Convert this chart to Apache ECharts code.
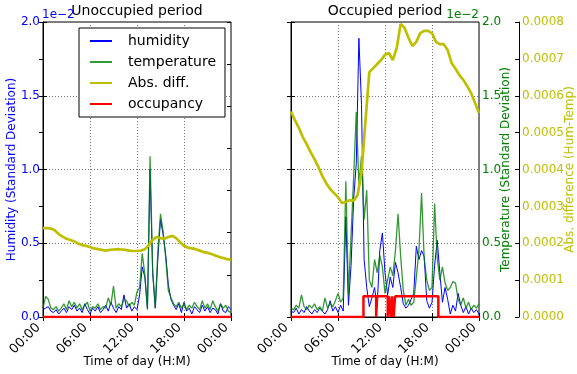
<!DOCTYPE html>
<html>
<head>
<meta charset="utf-8">
<script src="https://cdn.jsdelivr.net/npm/echarts@6/dist/echarts.min.js"></script>
<style>
html, body { margin: 0; padding: 0; background: #fff; }
#chart { width: 577px; height: 374px; }
</style>
</head>
<body>
<div id="chart"></div>
<script>
// x tick labels, one every 6 hours
const xTicks = ['00:00', '06:00', '12:00', '18:00', '00:00']

// std deviations sampled every 20 min (00:00 .. 24:00), in units of 1e-2
const unoccHumidity = [
  0.05, 0.06, 0.07, 0.04, 0.03, 0.05, 0.02, 0.04, 0.06, 0.03,
  0.07, 0.05, 0.08, 0.04, 0.06, 0.03, 0.09, 0.05, 0.02, 0.06,
  0.04, 0.07, 0.03, 0.05, 0.08, 0.04, 0.10, 0.06, 0.03, 0.07,
  0.05, 0.15, 0.06, 0.09, 0.04, 0.07, 0.05, 0.15, 0.34, 0.27,
  0.06, 1.00, 0.30, 0.06, 0.40, 0.66, 0.56, 0.42, 0.22, 0.12,
  0.08, 0.05, 0.09, 0.03, 0.10, 0.04, 0.06, 0.02, 0.07, 0.05,
  0.03, 0.08, 0.04, 0.07, 0.03, 0.06, 0.05, 0.02, 0.09, 0.04,
  0.03, 0.07, 0.05
]
const unoccTemperature = [
  0.06, 0.14, 0.12, 0.06, 0.05, 0.07, 0.04, 0.06, 0.09, 0.05,
  0.11, 0.07, 0.10, 0.06, 0.09, 0.05, 0.08, 0.10, 0.04, 0.07,
  0.06, 0.09, 0.05, 0.07, 0.06, 0.13, 0.08, 0.21, 0.06, 0.09,
  0.07, 0.12, 0.11, 0.07, 0.10, 0.08, 0.17, 0.20, 0.43, 0.29,
  0.05, 1.09, 0.32, 0.06, 0.45, 0.70, 0.58, 0.40, 0.18, 0.13,
  0.09, 0.07, 0.10, 0.06, 0.09, 0.05, 0.08, 0.06, 0.10, 0.07,
  0.05, 0.11, 0.06, 0.09, 0.05, 0.11, 0.07, 0.04, 0.09, 0.06,
  0.08, 0.04, 0.03
]
const occHumidity = [
  0.04, 0.03, 0.06, 0.02, 0.05, 0.03, 0.07, 0.04, 0.02, 0.05,
  0.03, 0.06, 0.04, 0.02, 0.05, 0.11, 0.04, 0.07, 0.03, 0.08,
  0.04, 0.68, 0.08, 0.35, 0.80, 1.04, 1.89, 1.44, 0.39, 0.20,
  0.07, 0.13, 0.20, 0.07, 0.45, 0.57, 0.30, 0.15, 0.27, 0.20,
  0.37, 0.30, 0.20, 0.09, 0.06, 0.08, 0.12, 0.16, 0.48, 0.39,
  0.45, 0.41, 0.11, 0.06, 0.10, 0.35, 0.52, 0.30, 0.10, 0.20,
  0.12, 0.02, 0.08, 0.04, 0.16, 0.08, 0.03, 0.07, 0.02, 0.06,
  0.03, 0.05, 0.02
]
const occTemperature = [
  0.06, 0.05, 0.08, 0.06, 0.15, 0.07, 0.05, 0.08, 0.06, 0.09,
  0.05, 0.07, 0.04, 0.13, 0.06, 0.09, 0.07, 0.11, 0.16, 0.10,
  0.13, 0.92, 0.15, 0.55, 0.95, 1.39, 0.90, 1.09, 0.66, 0.86,
  0.25, 0.20, 0.39, 0.30, 0.42, 0.34, 0.16, 0.25, 0.34, 0.28,
  0.45, 0.70, 0.41, 0.18, 0.08, 0.12, 0.08, 0.10, 0.27, 0.45,
  0.84, 0.40, 0.25, 0.18, 0.20, 0.77, 0.40, 0.25, 0.34, 0.23,
  0.18, 0.20, 0.24, 0.23, 0.12, 0.08, 0.13, 0.06, 0.10, 0.05,
  0.08, 0.06, 0.09
]

// abs. difference (hum - temp), every 30 min
const unoccAbsDiff = [
  0.000241, 0.000241, 0.000240, 0.000235, 0.000225, 0.000218, 0.000212, 0.000209, 0.000205, 0.000199,
  0.000195, 0.000193, 0.000190, 0.000186, 0.000184, 0.000182, 0.000180, 0.000182, 0.000183, 0.000184,
  0.000183, 0.000182, 0.000180, 0.000179, 0.000179, 0.000180, 0.000184, 0.000195, 0.000209, 0.000217,
  0.000214, 0.000212, 0.000217, 0.000220, 0.000214, 0.000203, 0.000193, 0.000188, 0.000186, 0.000184,
  0.000180, 0.000176, 0.000174, 0.000171, 0.000167, 0.000163, 0.000160, 0.000157, 0.000155
]
const occAbsDiff = [
  0.000557, 0.000534, 0.000513, 0.000488, 0.000469, 0.000447, 0.000428, 0.000407, 0.000382, 0.000363,
  0.000347, 0.000336, 0.000325, 0.000309, 0.000312, 0.000317, 0.000315, 0.000331, 0.000391, 0.000529,
  0.000664, 0.000675, 0.000686, 0.000697, 0.000711, 0.000716, 0.000697, 0.000730, 0.000795, 0.000784,
  0.000757, 0.000735, 0.000746, 0.000770, 0.000776, 0.000776, 0.000770, 0.000746, 0.000740, 0.000740,
  0.000724, 0.000689, 0.000673, 0.000656, 0.000643, 0.000626, 0.000607, 0.000580, 0.000553
]

// occupancy: hour of each change and the state from then on
const unoccOccTimes = [0, 24]
const unoccOccStates = [0, 0]
const occOccTimes = [0, 9.25, 10.87, 11.0, 12.35, 12.5, 12.75, 12.9, 13.1, 13.29, 18.81, 24]
const occOccStates = [0, 1, 0, 1, 0, 1, 0, 1, 0, 1, 0, 0]

const FONT = 'DejaVu Sans'
const BLUE = '#0000ff'
const GREEN = '#008000'
const YELLOW = '#bfbf00'
const RED = '#ff0000'

function sampled(values, step) {
  return values.map((v, i) => [i * step, v])
}
function steps(times, states) {
  return times.map((t, i) => [t, states[i]])
}

const grids = [
  { left: 43, top: 22, width: 188, height: 295 },
  { left: 291, top: 22, width: 188, height: 295 }
]

function xAxisFor(gridIndex) {
  return {
    gridIndex: gridIndex,
    type: 'value',
    min: 0,
    max: 24,
    interval: 6,
    name: 'Time of day (H:M)',
    nameLocation: 'middle',
    nameGap: 39,
    nameMoveOverlap: false,
    nameTextStyle: { fontFamily: FONT, fontSize: 12, color: '#000' },
    axisLine: { lineStyle: { color: '#000', width: 1 } },
    axisTick: { inside: true, length: 4, lineStyle: { color: '#000' } },
    axisLabel: {
      rotate: 45,
      margin: 13,
      align: 'right',
      verticalAlign: 'bottom',
      fontFamily: FONT,
      fontSize: 13,
      color: '#000',
      formatter: v => xTicks[Math.round(v / 6)]
    },
    splitLine: { show: true, lineStyle: { color: '#777', type: [1, 2], width: 1 } }
  }
}
function topAxisFor(gridIndex) {
  return {
    gridIndex: gridIndex,
    type: 'value',
    position: 'top',
    min: 0,
    max: 24,
    interval: 6,
    axisLine: { show: false },
    axisTick: { inside: true, length: 4, lineStyle: { color: '#000' } },
    axisLabel: { show: false },
    splitLine: { show: false }
  }
}
function tickOnlyAxis(gridIndex, position, max, interval) {
  return {
    gridIndex: gridIndex,
    type: 'value',
    position: position,
    min: 0,
    max: max,
    interval: interval,
    axisLine: { show: false },
    axisTick: { show: true, inside: true, length: 4, lineStyle: { color: '#000' } },
    axisLabel: { show: false },
    splitLine: { show: false }
  }
}
function hiddenAxis(gridIndex) {
  // occupancy axis: state 1 sits at 0.14 of the 0..2 humidity scale
  return { gridIndex: gridIndex, type: 'value', min: 0, max: 14.3, show: false }
}

const sdSplit = { show: true, lineStyle: { color: '#777', type: [1, 2], width: 1 } }

const yAxes = [
  // 0: left plot, humidity
  {
    gridIndex: 0,
    type: 'value',
    position: 'left',
    min: 0,
    max: 2,
    interval: 0.5,
    name: 'Humidity (Standard Deviation)',
    nameLocation: 'middle',
    nameGap: 25,
    nameMoveOverlap: false,
    nameTextStyle: { fontFamily: FONT, fontSize: 12, color: BLUE },
    axisLine: { lineStyle: { color: '#000' } },
    axisTick: { inside: true, length: 4, lineStyle: { color: '#000' } },
    axisLabel: { margin: 3, fontFamily: FONT, fontSize: 12, color: BLUE, formatter: v => v.toFixed(1) },
    splitLine: sdSplit
  },
  // 1: left plot, abs diff (labels hidden)
  tickOnlyAxis(0, 'right', 0.0008, 0.0001),
  // 2: left plot, temperature twin (labels hidden)
  tickOnlyAxis(0, 'right', 1.4, 0.2),
  // 3: left plot, occupancy
  hiddenAxis(0),
  // 4: right plot, humidity (labels hidden)
  {
    gridIndex: 1,
    type: 'value',
    position: 'left',
    min: 0,
    max: 2,
    interval: 0.5,
    axisLine: { lineStyle: { color: '#000' } },
    axisTick: { inside: true, length: 4, lineStyle: { color: '#000' } },
    axisLabel: { show: false },
    splitLine: sdSplit
  },
  // 5: right plot, temperature
  {
    gridIndex: 1,
    type: 'value',
    position: 'right',
    min: 0,
    max: 2,
    interval: 0.5,
    name: 'Temperature (Standard Deviation)',
    nameLocation: 'middle',
    nameGap: 21,
    nameRotate: 90,
    nameMoveOverlap: false,
    nameTextStyle: { fontFamily: FONT, fontSize: 12, color: GREEN },
    axisLine: { show: false },
    axisTick: { inside: true, length: 4, lineStyle: { color: '#000' } },
    axisLabel: { margin: 3, fontFamily: FONT, fontSize: 12, color: GREEN, formatter: v => v.toFixed(1) },
    splitLine: { show: false }
  },
  // 6: right plot, abs diff on an offset spine
  {
    gridIndex: 1,
    type: 'value',
    position: 'right',
    offset: 40,
    min: 0,
    max: 0.0008,
    interval: 0.0001,
    name: 'Abs. difference (Hum-Temp)',
    nameLocation: 'middle',
    nameGap: 45,
    nameRotate: 90,
    nameMoveOverlap: false,
    nameTextStyle: { fontFamily: FONT, fontSize: 12, color: YELLOW },
    axisLine: { show: true, lineStyle: { color: '#000' } },
    axisTick: { inside: true, length: 4, lineStyle: { color: '#000' } },
    axisLabel: { margin: 3, fontFamily: FONT, fontSize: 12, color: YELLOW, formatter: v => v.toFixed(4) },
    splitLine: { show: false }
  },
  // 7: right plot, occupancy
  hiddenAxis(1)
]

function lineSeries(name, data, xIdx, yIdx, color, width, extra) {
  return Object.assign({
    name: name,
    type: 'line',
    xAxisIndex: xIdx,
    yAxisIndex: yIdx,
    data: data,
    symbol: 'none',
    showSymbol: false,
    smooth: false,
    color: color,
    lineStyle: { color: color, width: width },
    emphasis: { disabled: true }
  }, extra || {})
}

const tempStyle = { lineStyle: { color: GREEN, width: 1.3, opacity: 0.8 } }

const series = [
  lineSeries('humidity', sampled(unoccHumidity, 1 / 3), 0, 0, BLUE, 1),
  lineSeries('temperature', sampled(unoccTemperature, 1 / 3), 0, 0, GREEN, 1.3, tempStyle),
  lineSeries('Abs. diff.', sampled(unoccAbsDiff, 0.5), 0, 1, YELLOW, 2.7),
  lineSeries('occupancy', steps(unoccOccTimes, unoccOccStates), 0, 3, RED, 2.5, { step: 'end' }),
  lineSeries('humidity', sampled(occHumidity, 1 / 3), 1, 4, BLUE, 1),
  lineSeries('temperature', sampled(occTemperature, 1 / 3), 1, 4, GREEN, 1.3, tempStyle),
  lineSeries('Abs. diff.', sampled(occAbsDiff, 0.5), 1, 6, YELLOW, 2.7),
  lineSeries('occupancy', steps(occOccTimes, occOccStates), 1, 7, RED, 2.5, { step: 'end' })
]

const chart = echarts.init(document.getElementById('chart'), null, { renderer: 'canvas' })
chart.setOption({
  animation: false,
  backgroundColor: '#fff',
  textStyle: { fontFamily: FONT },
  grid: grids.map(g => Object.assign({
    show: true,
    borderColor: '#000',
    borderWidth: 1,
    backgroundColor: 'transparent',
    containLabel: false,
    outerBoundsMode: 'none'
  }, g)),
  xAxis: [xAxisFor(0), xAxisFor(1), topAxisFor(0), topAxisFor(1)],
  yAxis: yAxes,
  legend: {
    data: ['humidity', 'temperature', 'Abs. diff.', 'occupancy'],
    orient: 'vertical',
    left: 79,
    top: 28,
    padding: [5, 9, 5, 10],
    itemWidth: 22,
    itemHeight: 2,
    itemGap: 5,
    itemStyle: { opacity: 0 },
    textStyle: { fontFamily: FONT, fontSize: 14, color: '#000', lineHeight: 16, padding: [0, 0, 0, 11] },
    backgroundColor: '#fff',
    borderColor: '#000',
    borderWidth: 1,
    borderRadius: 0,
    selectedMode: false
  },
  graphic: [
    { type: 'text', x: 137, y: 11, style: { text: 'Unoccupied period', font: '14px "DejaVu Sans"', fill: '#000', textAlign: 'center', textVerticalAlign: 'middle', align: 'center', verticalAlign: 'middle' } },
    { type: 'text', x: 385, y: 11, style: { text: 'Occupied period', font: '14px "DejaVu Sans"', fill: '#000', textAlign: 'center', textVerticalAlign: 'middle', align: 'center', verticalAlign: 'middle' } },
    { type: 'text', x: 42, y: 15, style: { text: '1e\u22122', font: '12px "DejaVu Sans"', fill: BLUE, textAlign: 'left', textVerticalAlign: 'middle', align: 'left', verticalAlign: 'middle' } },
    { type: 'text', x: 479, y: 15, style: { text: '1e\u22122', font: '12px "DejaVu Sans"', fill: GREEN, textAlign: 'right', textVerticalAlign: 'middle', align: 'right', verticalAlign: 'middle' } }
  ],
  series: series
})
</script>
</body>
</html>
